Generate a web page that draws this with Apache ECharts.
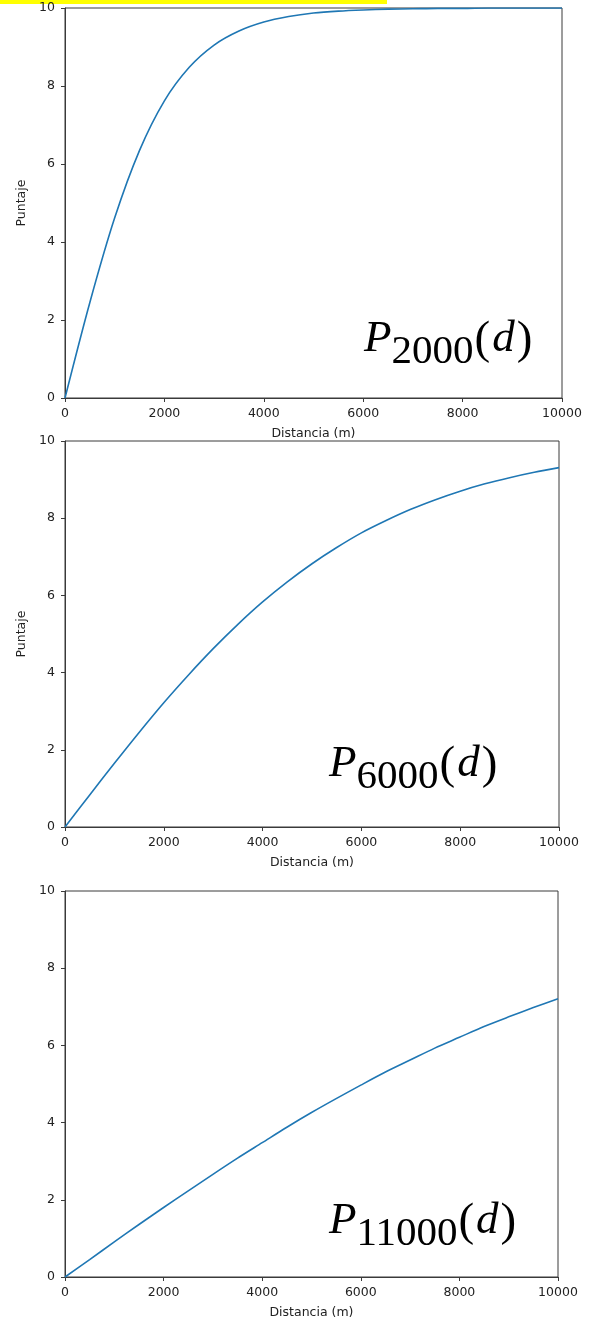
<!DOCTYPE html>
<html>
<head>
<meta charset="utf-8">
<script src="https://cdn.jsdelivr.net/npm/echarts@6/dist/echarts.min.js"></script>
<style>
  html, body { margin: 0; padding: 0; background: #fff; }
  #main { width: 591px; height: 1322px; }
</style>
</head>
<body>
<div id="main"></div>
<script>
const distancia = [0, 500, 1000, 1500, 2000, 2500, 3000, 3500, 4000, 4500, 5000,
  5500, 6000, 6500, 7000, 7500, 8000, 8500, 9000, 9500, 10000]
const p2000 = [0, 2.45, 4.62, 6.35, 7.62, 8.48, 9.05, 9.41, 9.64, 9.78, 9.87,
  9.92, 9.95, 9.97, 9.98, 9.99, 9.99, 10.0, 10.0, 10.0, 10.0]
const p6000 = [0, 0.83, 1.65, 2.45, 3.22, 3.94, 4.62, 5.25, 5.83, 6.35, 6.82,
  7.24, 7.62, 7.94, 8.23, 8.48, 8.70, 8.89, 9.05, 9.19, 9.31]
const p11000 = [0, 0.45, 0.91, 1.36, 1.80, 2.23, 2.66, 3.08, 3.48, 3.88, 4.26,
  4.62, 4.97, 5.31, 5.62, 5.93, 6.21, 6.49, 6.74, 6.98, 7.21]
const subindices = ['2000', '6000', '11000']

const ejeColor = '#3a3a3a'
const textoColor = '#222'
const fuente = 'DejaVu Sans'

let myChart = echarts.init(document.getElementById('main'))

const grids = [
  { left: 65, top: 8, width: 497, height: 390 },
  { left: 65, top: 441, width: 494, height: 386 },
  { left: 65, top: 891, width: 493, height: 386 }
]

function ejeX (i) {
  return {
    type: 'value',
    gridIndex: i,
    min: 0,
    max: 10000,
    interval: 2000,
    name: 'Distancia (m)',
    nameLocation: 'middle',
    nameGap: 29,
    nameTextStyle: { color: textoColor, fontSize: 12.5, fontFamily: fuente },
    axisLine: { show: true, lineStyle: { color: ejeColor, width: 1 } },
    axisTick: { show: true, length: 4, lineStyle: { color: ejeColor } },
    axisLabel: { color: textoColor, fontSize: 12.5, fontFamily: fuente, margin: 9, formatter: v => String(v) },
    splitLine: { show: false }
  }
}

function ejeY (i, conNombre) {
  return {
    type: 'value',
    gridIndex: i,
    min: 0,
    max: 10,
    interval: 2,
    name: conNombre ? 'Puntaje' : '',
    nameLocation: 'middle',
    nameGap: 29,
    nameTextStyle: { color: textoColor, fontSize: 12.5, fontFamily: fuente },
    axisLine: { show: true, lineStyle: { color: ejeColor, width: 1 } },
    axisTick: { show: true, length: 4, lineStyle: { color: ejeColor } },
    axisLabel: { color: textoColor, fontSize: 12.5, fontFamily: fuente, margin: 10 },
    splitLine: { show: false }
  }
}

function serie (i, valores) {
  return {
    type: 'line',
    xAxisIndex: i,
    yAxisIndex: i,
    data: distancia.map((d, k) => [d, valores[k]]),
    showSymbol: false,
    smooth: 0.3,
    lineStyle: { color: '#1f77b4', width: 1.6 },
    itemStyle: { color: '#1f77b4' },
    animation: false
  }
}

// etiqueta P_sub(d) con texto enriquecido
function etiqueta (sub, left, top) {
  return {
    type: 'text',
    left: left,
    top: top,
    style: {
      text: '{p|P}{s|' + sub + '}{par|(}{d|d}{par|)}',
      rich: {
        p: { fontSize: 45, fontStyle: 'italic', fontFamily: 'Liberation Serif', color: '#000', lineHeight: 56, verticalAlign: 'top' },
        d: { fontSize: 45, fontStyle: 'italic', fontFamily: 'Liberation Serif', color: '#000', lineHeight: 56, verticalAlign: 'top', padding: [0, 1, 0, 1] },
        s: { fontSize: 41, fontFamily: 'Liberation Serif', color: '#000', lineHeight: 32, verticalAlign: 'bottom' },
        par: { fontSize: 47, fontFamily: 'Liberation Serif', color: '#000', lineHeight: 56, verticalAlign: 'top', padding: [0, 1, 0, 1] }
      }
    }
  }
}

myChart.setOption({
  animation: false,
  grid: grids.map(g => Object.assign({ show: true, borderColor: ejeColor, borderWidth: 1, backgroundColor: '#fff' }, g)),
  xAxis: [ejeX(0), ejeX(1), ejeX(2)],
  yAxis: [ejeY(0, true), ejeY(1, true), ejeY(2, false)],
  series: [serie(0, p2000), serie(1, p6000), serie(2, p11000)],
  graphic: [
    { type: 'rect', left: 0, top: 0, shape: { width: 387, height: 4 }, style: { fill: '#ffff00' } },
    etiqueta(subindices[0], 364, 317),
    etiqueta(subindices[1], 329, 742),
    etiqueta(subindices[2], 329, 1199)
  ]
})
</script>
</body>
</html>
